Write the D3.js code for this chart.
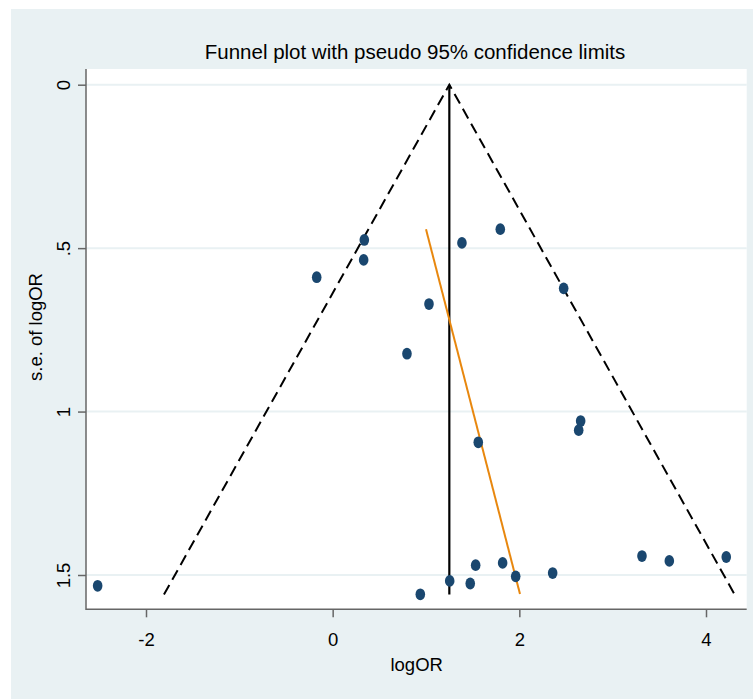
<!DOCTYPE html>
<html>
<head>
<meta charset="utf-8">
<script src="https://cdn.jsdelivr.net/npm/d3@7"></script>
<style>
  html, body { margin: 0; padding: 0; background: #ffffff; }
  svg { display: block; }
  text { font-family: "Liberation Sans", Arial, Helvetica, sans-serif; fill: #000; }
</style>
</head>
<body>
<script>
// ---- data ----
const logOR = [-2.518, -0.171, 0.339, 0.332, 0.796, 1.032, 1.385, 1.796, 2.475, 2.657, 2.636,
               1.560, 0.939, 1.254, 1.474, 1.532, 1.821, 1.961, 2.357, 3.314, 3.607, 4.217];
const seLogOR = [1.533, 0.589, 0.475, 0.536, 0.823, 0.671, 0.484, 0.442, 0.623, 1.029, 1.057,
                 1.094, 1.559, 1.518, 1.526, 1.470, 1.463, 1.504, 1.494, 1.442, 1.457, 1.445];
const pooled = 1.25;
const seMax = 1.56;
const z95 = 1.96;
const regLineX = [1.0, 2.007];
const regLineSE = [0.442, 1.558];
const xTicks = [-2, 0, 2, 4];
const yTicks = [0, 0.5, 1, 1.5];
const yTickLabels = ["0", ".5", "1", "1.5"];
const titleText = "Funnel plot with pseudo 95% confidence limits";
const xTitle = "logOR";
const yTitle = "s.e. of logOR";

// ---- layout ----
const W = 753, H = 699;
const plot = { left: 86, right: 746.7, top: 69, bottom: 609.3 };
const svg = d3.select("body").append("svg").attr("width", W).attr("height", H);

svg.append("rect").attr("x", 11).attr("y", 9).attr("width", W - 11).attr("height", H - 9)
  .attr("fill", "#e9f1f3");
svg.append("rect").attr("x", plot.left).attr("y", plot.top)
  .attr("width", plot.right - plot.left).attr("height", plot.bottom - plot.top)
  .attr("fill", "#ffffff");

const x = d3.scaleLinear().domain([-2, 4]).range([146, 706]);
const y = d3.scaleLinear().domain([0, 1.5]).range([84.7, 575]);

// gridlines
svg.append("g").selectAll("line").data(yTicks).join("line")
  .attr("x1", plot.left).attr("x2", plot.right)
  .attr("y1", d => y(d)).attr("y2", d => y(d))
  .attr("stroke", "#e9f1f3").attr("stroke-width", 2);

// axes
const xAxis = d3.axisBottom(x).tickValues(xTicks).tickSize(8)
  .tickFormat(d3.format("d"));
const gx = svg.append("g").attr("transform", `translate(0,${plot.bottom})`).call(xAxis);
gx.select(".domain").remove();
gx.selectAll(".tick line").attr("stroke", "#666").attr("stroke-width", 1.5);
gx.selectAll(".tick text").attr("font-size", 18.5).attr("fill", "#000")
  .attr("font-family", "Liberation Sans, Arial, sans-serif")
  .attr("y", 36.7).attr("dy", null)
  .text(d => d < 0 ? "-" + Math.abs(d) : String(d));

const yAxis = d3.axisLeft(y).tickValues(yTicks).tickSize(8).tickPadding(0)
  .tickFormat((d, i) => yTickLabels[i]);
const gy = svg.append("g").attr("transform", `translate(${plot.left},0)`).call(yAxis);
gy.select(".domain").remove();
gy.selectAll(".tick line").attr("stroke", "#666").attr("stroke-width", 1.5);
gy.selectAll(".tick text").attr("font-size", 18.5).attr("fill", "#000")
  .attr("font-family", "Liberation Sans, Arial, sans-serif")
  .attr("x", 0).attr("dy", null).attr("text-anchor", "middle")
  .attr("transform", "translate(-16,0) rotate(-90)")
  .attr("y", 0);

// axis lines
svg.append("line").attr("x1", plot.left).attr("x2", plot.left)
  .attr("y1", plot.top).attr("y2", plot.bottom + 0.7)
  .attr("stroke", "#666").attr("stroke-width", 1.5);
svg.append("line").attr("x1", plot.left).attr("x2", plot.right)
  .attr("y1", plot.bottom).attr("y2", plot.bottom)
  .attr("stroke", "#666").attr("stroke-width", 1.5);

// funnel lines
const line = d3.line().x(d => x(d[0])).y(d => y(d[1]));
svg.append("path")
  .attr("d", line([[pooled - z95 * seMax, seMax], [pooled, 0], [pooled + z95 * seMax, seMax]]))
  .attr("fill", "none").attr("stroke", "#000").attr("stroke-width", 2)
  .attr("stroke-dasharray", "11,6");
svg.append("path")
  .attr("d", line([[pooled, 0], [pooled, seMax]]))
  .attr("fill", "none").attr("stroke", "#000").attr("stroke-width", 2.2);

// regression line
svg.append("path")
  .attr("d", line(regLineX.map((v, i) => [v, regLineSE[i]])))
  .attr("fill", "none").attr("stroke", "#e8870e").attr("stroke-width", 2);

// points
svg.append("g").selectAll("ellipse").data(logOR.map((v, i) => [v, seLogOR[i]])).join("ellipse")
  .attr("cx", d => x(d[0])).attr("cy", d => y(d[1]))
  .attr("rx", 4.8).attr("ry", 5.9)
  .attr("fill", "#1a476f");

// titles
svg.append("text").attr("x", 415).attr("y", 59).attr("text-anchor", "middle")
  .attr("font-size", 20.5).text(titleText);
svg.append("text").attr("x", 416.7).attr("y", 670.5).attr("text-anchor", "middle")
  .attr("font-size", 18.5).text(xTitle);
svg.append("text").attr("transform", "translate(42,327) rotate(-90)")
  .attr("text-anchor", "middle").attr("font-size", 18.5).text(yTitle);
</script>
</body>
</html>
